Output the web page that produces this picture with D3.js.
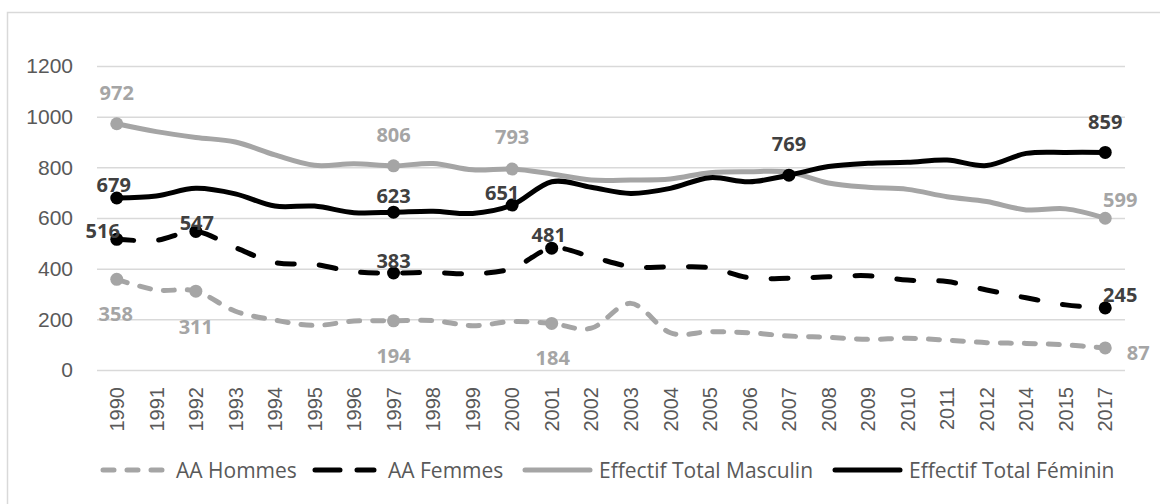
<!DOCTYPE html>
<html>
<head>
<meta charset="utf-8">
<script src="https://cdn.jsdelivr.net/npm/d3@7"></script>
<style>
  body { margin: 0; background: #fff; }
  svg { display: block; font-family: "Open Sans", sans-serif; }
</style>
</head>
<body>
<svg id="chart"></svg>
<script>
const chart = d3.select("#chart");

// categories (2013 and 2016 are missing from the source table)
const years = ["1990","1991","1992","1993","1994","1995","1996","1997","1998","1999",
  "2000","2001","2002","2003","2004","2005","2006","2007","2008","2009",
  "2010","2011","2012","2014","2015","2017"];

const aaHommes = [358, 316, 311, 232, 197, 176, 193, 194, 195, 175,
  191, 184, 165, 263, 147, 151, 147, 134, 129, 121,
  125, 118, 108, 105, 99, 87];
const aaFemmes = [516, 512, 547, 483, 424, 417, 388, 383, 385, 380,
  401, 481, 447, 408, 407, 404, 364, 362, 368, 372,
  355, 349, 316, 285, 257, 245];
const effMasculin = [972, 941, 918, 900, 849, 808, 814, 806, 815, 790,
  793, 774, 750, 750, 754, 779, 783, 781, 738, 721,
  713, 684, 665, 632, 636, 599];
const effFeminin = [679, 687, 717, 695, 647, 647, 621, 623, 627, 618,
  651, 743, 721, 697, 717, 759, 743, 769, 803, 816,
  820, 829, 807, 855, 859, 859];

// points that carry a marker and a value label
const labelledHommes = ["1990", "1992", "1997", "2001", "2017"];
const labelledFemmes = ["1990", "1992", "1997", "2001", "2017"];
const labelledMasculin = ["1990", "1997", "2000", "2017"];
const labelledFeminin = ["1990", "1997", "2000", "2007", "2017"];

const yTicks = [0, 200, 400, 600, 800, 1000, 1200];

const width = 1160, height = 504;
const margin = { top: 66, right: 35, bottom: 134, left: 97 };
const grey = "#A5A5A5", textGrey = "#595959";

chart.attr("width", width).attr("height", height);

// outer frame (right and bottom edges fall outside the picture)
chart.append("rect")
  .attr("x", 7.5).attr("y", 12.5)
  .attr("width", width + 10).attr("height", height + 10)
  .attr("fill", "none")
  .attr("stroke", "#D9D9D9")
  .attr("stroke-width", 1.5);

const x = d3.scaleBand()
  .domain(years)
  .range([margin.left, width - margin.right])
  .padding(0);
const cx = d => x(d) + x.bandwidth() / 2;

const y = d3.scaleLinear()
  .domain([0, 1200])
  .range([height - margin.bottom, margin.top]);

// gridlines + y labels
chart.append("g")
  .attr("transform", `translate(${margin.left},0)`)
  .call(d3.axisLeft(y).tickValues(yTicks)
    .tickFormat(d3.format("d"))
    .tickSize(-(width - margin.right - margin.left))
    .tickPadding(24))
  .call(g => g.select(".domain").remove())
  .call(g => g.selectAll(".tick line").attr("stroke", "#D9D9D9").attr("stroke-width", 1.5))
  .call(g => g.selectAll(".tick text")
    .attr("fill", textGrey)
    .style("font-size", "21px"));

// x labels, rotated
chart.append("g")
  .attr("transform", `translate(0,${height - margin.bottom})`)
  .call(d3.axisBottom(x).tickSize(0))
  .call(g => g.select(".domain").remove())
  .selectAll(".tick text")
  .attr("transform", "rotate(-90)")
  .attr("x", -17)
  .attr("y", 0)
  .attr("dy", "0.36em")
  .attr("text-anchor", "end")
  .attr("fill", textGrey)
  .style("font-size", "20px");

// series, in Excel draw order
const series = [
  { key: "hommes", name: "AA Hommes", values: aaHommes, labelled: labelledHommes,
    color: grey, labelColor: grey, dash: "11,13", legendDash: "11,13" },
  { key: "femmes", name: "AA Femmes", values: aaFemmes, labelled: labelledFemmes,
    color: "#000", labelColor: "#404040", dash: "17,25", legendDash: "25,17" },
  { key: "masculin", name: "Effectif Total Masculin", values: effMasculin, labelled: labelledMasculin,
    color: grey, labelColor: grey, dash: null, legendDash: null },
  { key: "feminin", name: "Effectif Total Féminin", values: effFeminin, labelled: labelledFeminin,
    color: "#000", labelColor: "#404040", dash: null, legendDash: null }
];

// label offsets from the point: [dx, baseline dy]
const labelOffsets = {
  hommes: { "1990": [-1, 42], "1992": [0, 43], "1997": [0, 42], "2001": [1, 42], "2017": [33, 12] },
  femmes: { "1990": [-14, -1], "1992": [1, -1], "1997": [0, -5], "2001": [-3, -6], "2017": [15, -6] },
  masculin: { "1990": [0, -24], "1997": [0, -24], "2000": [0, -25], "2017": [15, -11] },
  feminin: { "1990": [-3, -6], "1997": [0, -9], "2000": [-10, -5], "2007": [0, -24], "2017": [0, -23] }
};

const line = d3.line()
  .x(d => cx(d.year))
  .y(d => y(d.value))
  .curve(d3.curveCardinal.tension(0));

series.forEach(s => {
  const pts = years.map((yr, i) => ({ year: yr, value: s.values[i] }));

  chart.append("path")
    .datum(pts)
    .attr("d", line)
    .attr("fill", "none")
    .attr("stroke", s.color)
    .attr("stroke-width", 5)
    .attr("stroke-linecap", "round")
    .attr("stroke-linejoin", "round")
    .attr("stroke-dasharray", s.dash);

  const marked = pts.filter(p => s.labelled.includes(p.year));

  chart.selectAll(`.marker-${s.key}`)
    .data(marked)
    .enter()
    .append("circle")
    .attr("class", `marker-${s.key}`)
    .attr("cx", d => cx(d.year))
    .attr("cy", d => y(d.value))
    .attr("r", 6.5)
    .attr("fill", s.color);
});

// value labels on top of all lines
series.forEach(s => {
  const pts = years.map((yr, i) => ({ year: yr, value: s.values[i] }))
    .filter(p => s.labelled.includes(p.year));
  chart.selectAll(`.label-${s.key}`)
    .data(pts)
    .enter()
    .append("text")
    .attr("class", `label-${s.key}`)
    .attr("x", d => cx(d.year) + labelOffsets[s.key][d.year][0])
    .attr("y", d => y(d.value) + labelOffsets[s.key][d.year][1])
    .attr("text-anchor", "middle")
    .attr("fill", s.labelColor)
    .style("font-size", "20px")
    .style("font-weight", 700)
    .text(d => d.value);
});

// legend
const legendY = 470;
const legendX = [100, 312, 522, 832];
const legend = chart.append("g").attr("class", "legend");
series.forEach((s, i) => {
  const gx = legendX[i];
  legend.append("line")
    .attr("x1", gx + 3).attr("x2", gx + (s.dash ? 62 : 68))
    .attr("y1", legendY).attr("y2", legendY)
    .attr("stroke", s.color)
    .attr("stroke-width", 5)
    .attr("stroke-linecap", "round")
    .attr("stroke-dasharray", s.legendDash);
  legend.append("text")
    .attr("x", gx + (s.dash ? 76 : 77))
    .attr("y", legendY)
    .attr("dy", "0.36em")
    .attr("fill", textGrey)
    .style("font-size", "21px")
    .text(s.name);
});
</script>
</body>
</html>
